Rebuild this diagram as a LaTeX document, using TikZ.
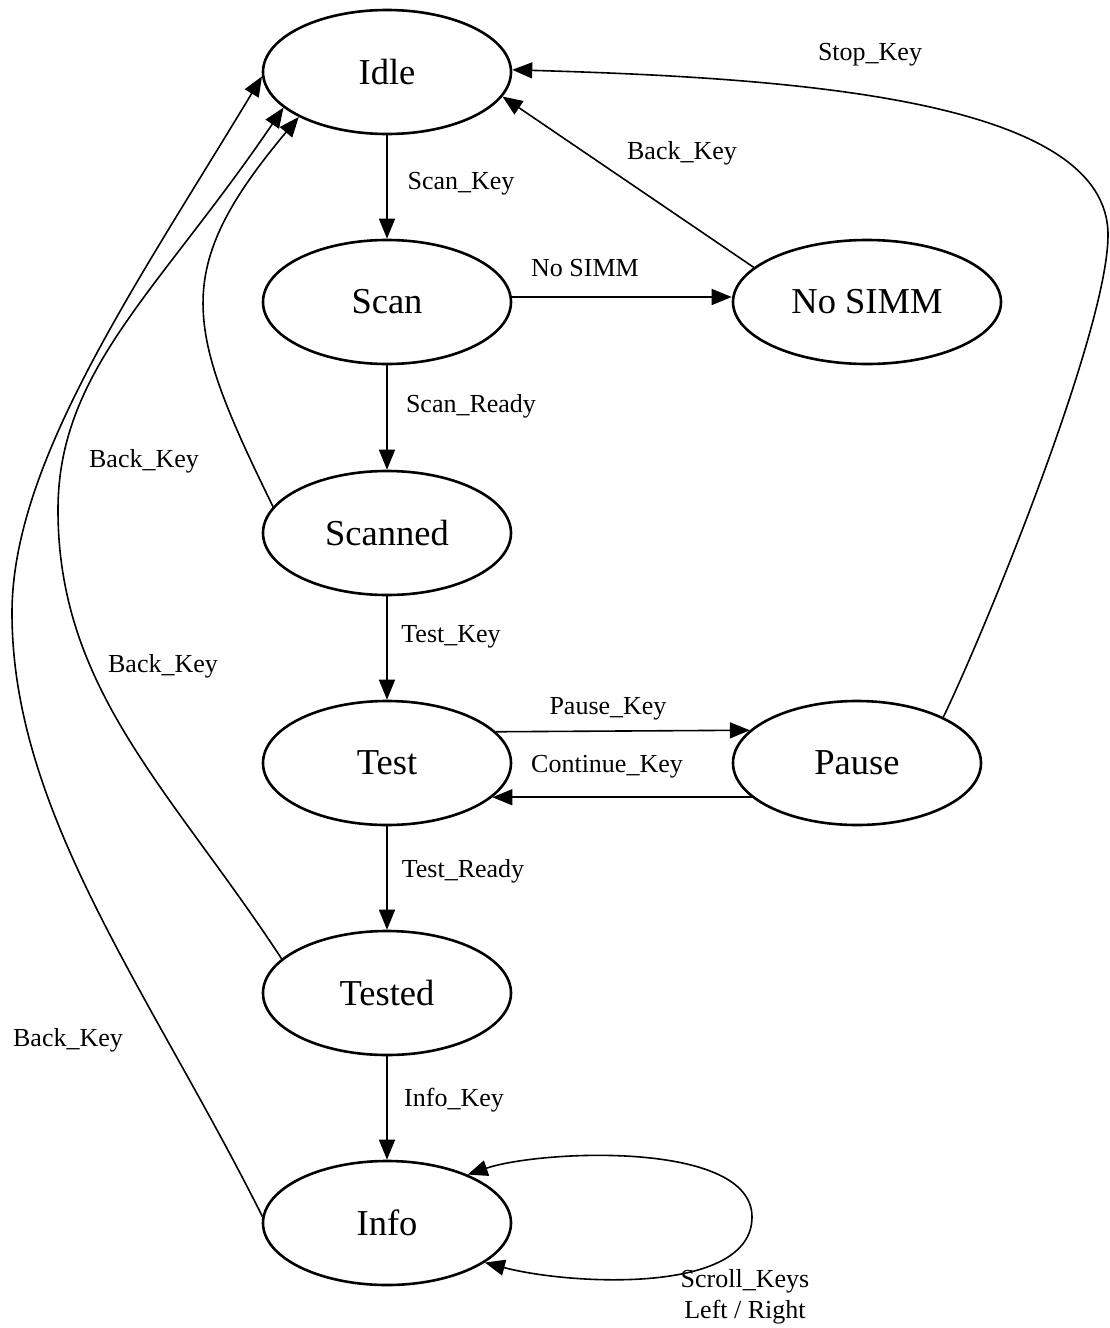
\documentclass[tikz,border=0pt]{standalone}
\usepackage{fontspec}
\setmainfont{Liberation Serif}
\usetikzlibrary{arrows.meta,shapes.geometric}
\begin{document}
\begin{tikzpicture}[x=1pt,y=-1pt,
  state/.style={draw, ellipse, line width=2.6pt, minimum width=248pt, minimum height=124pt, inner sep=0pt, font=\fontsize{36.5}{43}\selectfont},
  edge/.style={line width=1.6pt, -{Triangle[length=20pt,width=16pt]}},
  biedge/.style={line width=1.6pt, {Triangle[length=20pt,width=16pt]}-{Triangle[length=20pt,width=16pt]}},
  lbl/.style={font=\fontsize{26}{31}\selectfont, inner sep=0pt, align=center}]
\useasboundingbox (0,0) rectangle (1109,1328);
% states
\node[state] (idle) at (387,72) {Idle};
\node[state] (scan) at (387,302) {Scan};
\node[state,minimum width=268pt] (nosimm) at (867,302) {No SIMM};
\node[state] (scanned) at (387,533) {Scanned};
\node[state] (test) at (387,763) {Test};
\node[state] (pause) at (857,763) {Pause};
\node[state] (tested) at (387,993) {Tested};
\node[state] (info) at (387,1223) {Info};
% straight transitions
\draw[edge] (idle) -- (scan);
\draw[edge] (scan) -- (scanned);
\draw[edge] (scanned) -- (test);
\draw[edge] (test) -- (tested);
\draw[edge] (tested) -- (info);
\draw[edge] ([yshift=5pt]scan.east) -- ([yshift=5pt]nosimm.west);
\draw[edge] (nosimm.163) -- (idle.-12);
\draw[edge] (test.16.5) -- (pause.163.5);
\draw[edge] (pause.198) -- (test.-18);
% curved transitions
\draw[edge] (pause.28) .. controls (985,631) and (1108,330) .. (1108,235)
  .. controls (1108,100) and (800,78) .. (idle.1.5);
\draw[edge] (info.177) .. controls (150,992) and (12,813) .. (12,613)
  .. controls (12,463) and (135,287) .. (idle.182);
\draw[edge] (tested.162) .. controls (171,790) and (58,690) .. (58,510)
  .. controls (58,370) and (159,291) .. (idle.199);
\draw[edge] (scanned.167) .. controls (185,327) and (170,271) .. (idle.207);
\draw[biedge] (info.31) .. controls (540,1150) and (752,1140) .. (752,1217)
  .. controls (752,1295) and (570,1285) .. (info.-22);
% labels
\node[lbl] (lscankey) at (461,184) {Scan\_Key};
\node[lbl] (lnosimm) at (585,268) {No SIMM};
\node[lbl] (lback1) at (682,153) {Back\_Key};
\node[lbl] (lstop) at (870,55) {Stop\_Key};
\node[lbl] (lscanready) at (471,406) {Scan\_Ready};
\node[lbl] (lback2) at (144,461) {Back\_Key};
\node[lbl] (ltestkey) at (451,637) {Test\_Key};
\node[lbl] (lback3) at (163,666) {Back\_Key};
\node[lbl] (lpause) at (608,709) {Pause\_Key};
\node[lbl] (lcont) at (607,767) {Continue\_Key};
\node[lbl] (ltestready) at (463,871) {Test\_Ready};
\node[lbl] (lback4) at (68,1040) {Back\_Key};
\node[lbl] (linfokey) at (454,1100) {Info\_Key};
\node[lbl] (lscroll) at (745,1297) {Scroll\_Keys\\Left / Right};
\end{tikzpicture}
\end{document}
